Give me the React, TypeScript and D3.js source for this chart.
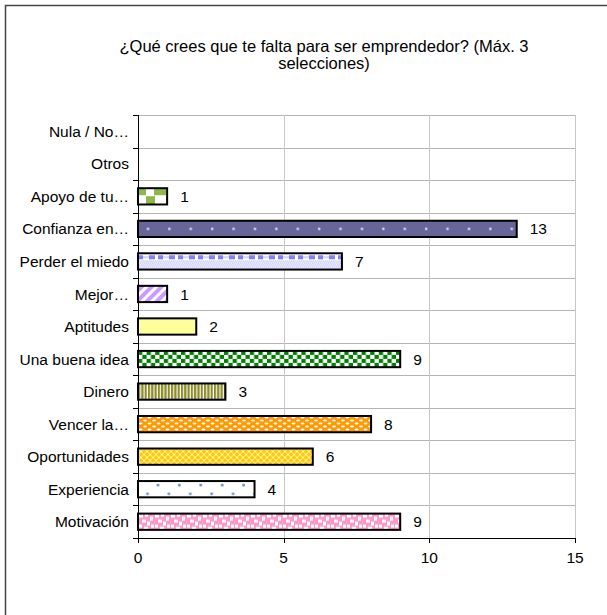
import * as d3 from "d3";
import { useEffect, useRef } from "react";

// datos del gráfico (de arriba hacia abajo)
const categorias = [
  "Nula / No…",
  "Otros",
  "Apoyo de tu…",
  "Confianza en…",
  "Perder el miedo",
  "Mejor…",
  "Aptitudes",
  "Una buena idea",
  "Dinero",
  "Vencer la…",
  "Oportunidades",
  "Experiencia",
  "Motivación",
];
const respuestas = [0, 0, 1, 13, 7, 1, 2, 9, 3, 8, 6, 4, 9];
const ticksX = [0, 5, 10, 15];
const titulo = ["¿Qué crees que te falta para ser emprendedor? (Máx. 3", "selecciones)"];

export default function App() {
  const svgRef = useRef<SVGSVGElement>(null);

  useEffect(() => {
    render();
  }, []);

  const render = () => {
    const width = 607;
    const height = 615;
    const plot = { left: 138, right: 575, top: 115, bottom: 538 };
    const font = "'Liberation Sans', Arial, sans-serif";
    const fs = 15.5;

    const svg = d3.select(svgRef.current).attr("width", width).attr("height", height);
    svg.selectAll("*").remove();

    svg
      .append("rect")
      .attr("width", width)
      .attr("height", height)
      .attr("fill", "#fff");

    // marco exterior
    svg
      .append("rect")
      .attr("x", 5.5)
      .attr("y", 5.5)
      .attr("width", 640)
      .attr("height", 640)
      .attr("fill", "none")
      .attr("stroke", "#444")
      .attr("stroke-width", 1.5);

    // título
    svg
      .append("text")
      .attr("font-family", font)
      .attr("font-size", 16.5)
      .attr("text-anchor", "middle")
      .selectAll("tspan")
      .data(titulo)
      .join("tspan")
      .attr("x", 324)
      .attr("y", (d, i) => 52 + i * 17)
      .text((d) => d);

    const x = d3.scaleLinear().domain([0, 15]).range([plot.left, plot.right]);
    const y = d3
      .scaleBand<string>()
      .domain(categorias)
      .range([plot.top, plot.bottom])
      .paddingInner(0.5)
      .paddingOuter(0.25);

    const step = y.step();
    const bordes = d3.range(categorias.length + 1).map((i) => plot.top + i * step);

    // rejilla
    const g = svg.append("g");
    g.selectAll("line.h")
      .data(bordes.slice(0, -1))
      .join("line")
      .attr("class", "h")
      .attr("x1", plot.left)
      .attr("x2", plot.right)
      .attr("y1", (d) => Math.round(d) + 0.5)
      .attr("y2", (d) => Math.round(d) + 0.5)
      .attr("stroke", "#b4b4b4");
    g.selectAll("line.v")
      .data(ticksX.slice(1))
      .join("line")
      .attr("class", "v")
      .attr("x1", (d) => Math.round(x(d)) + 0.5)
      .attr("x2", (d) => Math.round(x(d)) + 0.5)
      .attr("y1", plot.top)
      .attr("y2", plot.bottom)
      .attr("stroke", "#c8c8c8");

    // patrones
    const defs = svg.append("defs");
    const pat = (i: number, w: number, h: number) =>
      defs
        .append("pattern")
        .attr("id", `p${i}`)
        .attr("patternUnits", "userSpaceOnUse")
        .attr("x", plot.left)
        .attr("y", y(categorias[i])!)
        .attr("width", w)
        .attr("height", h);

    const rect = (p: any, rx: number, ry: number, w: number, h: number, c: string) =>
      p.append("rect").attr("x", rx).attr("y", ry).attr("width", w).attr("height", h).attr("fill", c);

    const bh = y.bandwidth();

    // 2 Apoyo: cuadros grandes verdes
    let p = pat(2, 20, 16);
    rect(p, 0, 0, 20, 16, "#fff");
    rect(p, 0, 0, 8, 7, "#8fb84a");
    rect(p, 16, 0, 4, 7, "#8fb84a");
    rect(p, 8, 8, 9, 8, "#8fb84a");

    // 3 Confianza: azul pizarra con puntos blancos
    p = pat(3, 21.4, bh);
    rect(p, 0, 0, 21.4, bh, "#666699");
    p.append("circle").attr("cx", 10).attr("cy", bh / 2).attr("r", 1.3).attr("fill", "#e8e8f4");

    // 4 Perder el miedo: franja superior + cuadriculado fino
    p = pat(4, 20, bh);
    rect(p, 0, 0, 20, bh, "#d4d4ff");
    for (let yy = 7; yy < bh; yy += 2)
      for (let xx = ((yy - 7) / 2) % 2 === 0 ? 0 : 1; xx < 20; xx += 2) rect(p, xx, yy, 1, 1, "#fff");
    rect(p, 0, 0, 20, 7, "#fff");
    rect(p, 0, 2, 5, 4, "#8080ff");
    rect(p, 11, 2, 6, 4, "#8080ff");
    rect(p, 5, 3, 6, 2, "#d4d4ff");

    // 5 Mejor: diagonales lila
    p = defs
      .append("pattern")
      .attr("id", "p5")
      .attr("patternUnits", "userSpaceOnUse")
      .attr("width", 7)
      .attr("height", 7)
      .attr("patternTransform", "rotate(45)");
    rect(p, 0, 0, 7, 7, "#fff");
    rect(p, 0, 0, 4, 7, "#cc99ff");

    // 6 Aptitudes: amarillo claro
    p = pat(6, 10, 10);
    rect(p, 0, 0, 10, 10, "#ffff99");

    // 7 Una buena idea: damero verde
    p = pat(7, 8.6, 8);
    rect(p, 0, 0, 8.6, 8, "#fff");
    rect(p, 0, 0, 4.3, 4, "#008000");
    rect(p, 4.3, 4, 4.3, 4, "#008000");

    // 8 Dinero: rayas verticales oliva
    p = pat(8, 3.3, 10);
    rect(p, 0, 0, 3.3, 10, "#fff");
    rect(p, 0, 0, 2.2, 10, "#8c8c2a");

    // 9 Vencer: naranja con guiones blancos
    p = pat(9, 9, 6);
    rect(p, 0, 0, 9, 6, "#ff9900");
    p.append("ellipse").attr("cx", 2.5).attr("cy", 1.5).attr("rx", 2).attr("ry", 1).attr("fill", "#fff");
    p.append("ellipse").attr("cx", 7).attr("cy", 4.5).attr("rx", 2).attr("ry", 1).attr("fill", "#fff");

    // 10 Oportunidades: dorado con enrejado blanco
    p = pat(10, 6, 6);
    rect(p, 0, 0, 6, 6, "#ffcc00");
    p.append("path")
      .attr("d", "M0,0L6,6M6,0L0,6")
      .attr("stroke", "#fff")
      .attr("stroke-width", 0.9)
      .attr("opacity", 0.85);

    // 11 Experiencia: blanco con puntos azules
    p = pat(11, 21.4, bh);
    rect(p, 0, 0, 21.4, bh, "#fff");
    p.append("circle").attr("cx", 20).attr("cy", 4).attr("r", 1.4).attr("fill", "#5a8fd0");
    p.append("circle").attr("cx", 9.5).attr("cy", bh - 3.5).attr("r", 1.4).attr("fill", "#5a8fd0");

    // 12 Motivación: rosa con cuadros blancos
    p = pat(12, 16, 16);
    rect(p, 0, 0, 16, 16, "#ff99cc");
    rect(p, 1, 1, 4, 3, "#fff");
    rect(p, 7, 0, 3, 3, "#fff");
    rect(p, 12, 3, 3, 4, "#fff");
    rect(p, 4, 6, 4, 3, "#fff");
    rect(p, 9, 8, 3, 4, "#fff");
    rect(p, 1, 11, 3, 3, "#fff");
    rect(p, 13, 11, 3, 3, "#fff");
    rect(p, 6, 13, 4, 3, "#fff");

    // barras
    const datos = categorias.map((c, i) => ({ c, v: respuestas[i], i }));
    svg
      .append("g")
      .selectAll("rect")
      .data(datos.filter((d) => d.v > 0))
      .join("rect")
      .attr("x", x(0))
      .attr("y", (d) => y(d.c)!)
      .attr("width", (d) => x(d.v) - x(0))
      .attr("height", bh)
      .attr("fill", (d) => `url(#p${d.i})`)
      .attr("stroke", "#000")
      .attr("stroke-width", 2);

    // etiquetas de valor
    svg
      .append("g")
      .attr("font-family", font)
      .attr("font-size", fs)
      .selectAll("text")
      .data(datos.filter((d) => d.v > 0))
      .join("text")
      .attr("x", (d) => x(d.v) + 13)
      .attr("y", (d) => y(d.c)! + bh / 2)
      .attr("dy", "0.36em")
      .text((d) => d.v);

    // eje de categorías
    const ax = svg.append("g");
    ax.append("line")
      .attr("x1", plot.left + 0.5)
      .attr("x2", plot.left + 0.5)
      .attr("y1", plot.top)
      .attr("y2", plot.bottom + 5)
      .attr("stroke", "#000");
    ax.selectAll("line.t")
      .data(bordes)
      .join("line")
      .attr("class", "t")
      .attr("x1", plot.left - 5)
      .attr("x2", plot.left)
      .attr("y1", (d) => Math.round(d) + 0.5)
      .attr("y2", (d) => Math.round(d) + 0.5)
      .attr("stroke", "#000");
    ax.selectAll("text")
      .data(categorias)
      .join("text")
      .attr("x", plot.left - 9)
      .attr("y", (d) => y(d)! + bh / 2)
      .attr("dy", "0.36em")
      .attr("text-anchor", "end")
      .attr("font-family", font)
      .attr("font-size", fs)
      .text((d) => d);

    // eje de valores
    const bx = svg.append("g");
    bx.append("line")
      .attr("x1", plot.left)
      .attr("x2", plot.right + 0.5)
      .attr("y1", plot.bottom + 0.5)
      .attr("y2", plot.bottom + 0.5)
      .attr("stroke", "#000");
    bx.selectAll("line.t")
      .data(ticksX)
      .join("line")
      .attr("class", "t")
      .attr("x1", (d) => Math.round(x(d)) + 0.5)
      .attr("x2", (d) => Math.round(x(d)) + 0.5)
      .attr("y1", plot.bottom)
      .attr("y2", plot.bottom + 5)
      .attr("stroke", "#000");
    bx.selectAll("text")
      .data(ticksX)
      .join("text")
      .attr("x", (d) => x(d))
      .attr("y", plot.bottom + 25)
      .attr("text-anchor", "middle")
      .attr("font-family", font)
      .attr("font-size", fs)
      .text((d) => d);
  };

  return (
    <svg
      ref={svgRef}
      style={{ position: "absolute", left: 0, top: 0, display: "block" }}
    ></svg>
  );
}
